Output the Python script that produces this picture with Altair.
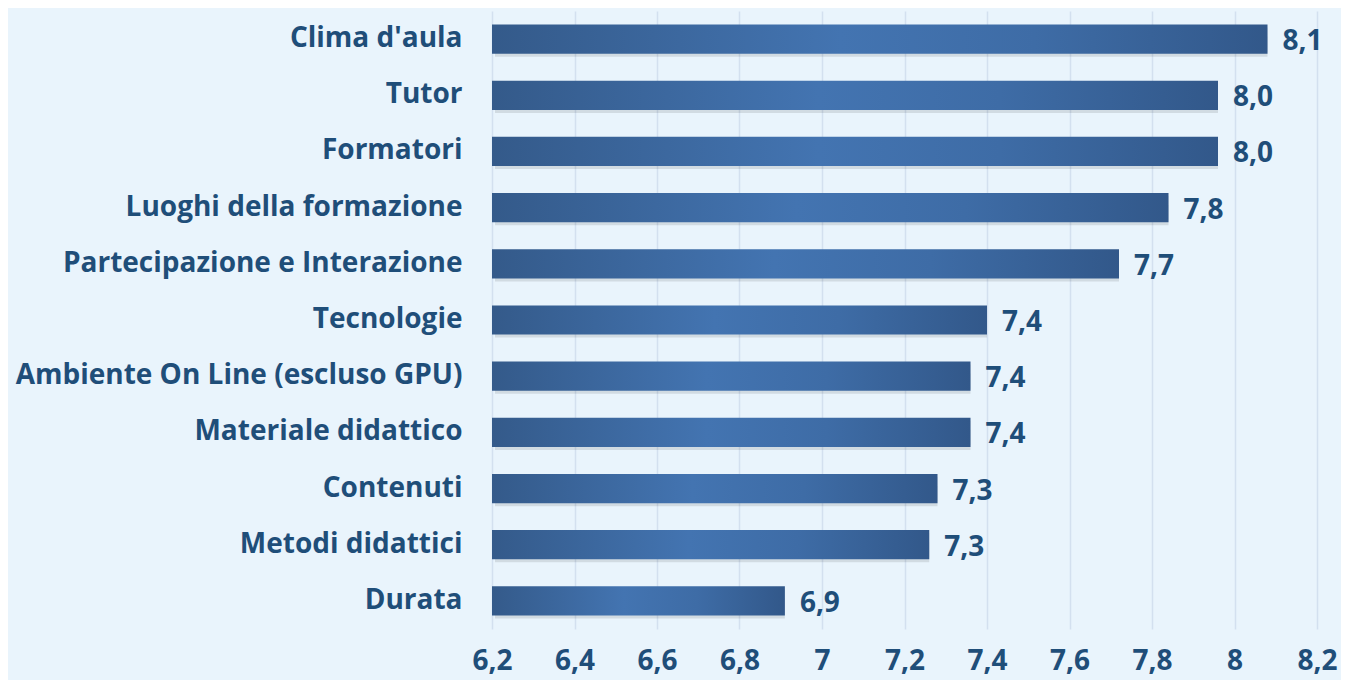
import altair as alt
import pandas as pd

categories = [
    "Clima d'aula", "Tutor", "Formatori", "Luoghi della formazione",
    "Partecipazione e Interazione", "Tecnologie", "Ambiente On Line (escluso GPU)",
    "Materiale didattico", "Contenuti", "Metodi didattici", "Durata",
]
values = [8.08, 7.96, 7.96, 7.84, 7.72, 7.40, 7.36, 7.36, 7.28, 7.26, 6.91]
x_ticks = [6.2, 6.4, 6.6, 6.8, 7.0, 7.2, 7.4, 7.6, 7.8, 8.0, 8.2]

df = pd.DataFrame({"cat": categories, "value": values})

BG = "#E9F4FC"
TXT = "#1F4E79"
FONT = "Open Sans"
FS = 28

grad = alt.Gradient(
    gradient="linear", x1=0, x2=1, y1=0, y2=0,
    stops=[
        alt.GradientStop(color="#345A8A", offset=0),
        alt.GradientStop(color="#4374B1", offset=0.45),
        alt.GradientStop(color="#3E6CA6", offset=0.7),
        alt.GradientStop(color="#32588A", offset=1),
    ],
)

y_enc = alt.Y("cat:N", sort=categories,
              scale=alt.Scale(paddingInner=0.48, paddingOuter=0.24),
              axis=alt.Axis(title=None, domain=False, ticks=False, labelPadding=30,
                            labelFont=FONT, labelFontSize=FS, labelFontWeight="bold",
                            labelColor=TXT, labelLimit=700))
x_scale = alt.Scale(domain=[6.2, 8.2], nice=False, zero=False)

base = alt.Chart(df).transform_calculate(
    base="6.2", lbl="replace(format(datum.value, '.1f'), '.', ',')"
)

shadow1 = base.mark_bar(color="#000000", opacity=0.10, xOffset=3, yOffset=3).encode(
    x=alt.X("base:Q", scale=x_scale), x2="value:Q", y=y_enc)
shadow2 = base.mark_bar(color="#000000", opacity=0.07, xOffset=4, yOffset=5, height={"band": 0.52}).encode(
    x=alt.X("base:Q", scale=x_scale), x2="value:Q", y=y_enc)

bars = base.mark_bar(color=grad).encode(
    x=alt.X("base:Q", scale=x_scale,
            axis=alt.Axis(title=None, values=x_ticks, domain=False, ticks=False,
                          grid=True, gridColor="#D3E0EF", gridWidth=1.5,
                          labelFlush=False, labelOverlap=False,
                          labelExpr="replace(format(datum.value, '.2~f'), '.', ',')",
                          labelFont=FONT, labelFontSize=FS, labelFontWeight="bold",
                          labelColor=TXT, labelPadding=18)),
    x2="value:Q",
    y=y_enc,
)

labels = base.mark_text(align="left", baseline="middle", dx=15, dy=3,
                        font=FONT, fontSize=FS, fontWeight="bold", color=TXT).encode(
    x=alt.X("value:Q", scale=x_scale), y=y_enc, text="lbl:N")

chart = alt.layer(shadow2, shadow1, bars, labels).properties(
    width=825, height=618,
    background=BG,
    padding={"left": 484, "top": 3, "right": 24, "bottom": 51},
    autosize=alt.AutoSizeParams(type="none"),
).configure_view(stroke=None)

chart.save("out.html", embed_options={"renderer": "svg", "actions": False})
